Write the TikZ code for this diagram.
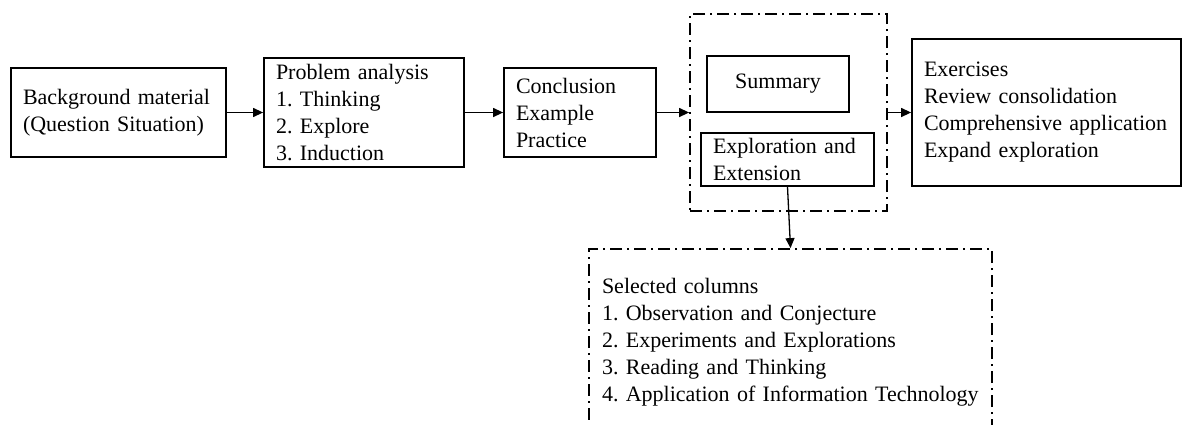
\documentclass[tikz,border=0pt]{standalone}
\usepackage{fontspec}
\setmainfont{Liberation Serif}
\usetikzlibrary{arrows.meta}
\frenchspacing
\hyphenpenalty=10000
\begin{document}
\begin{tikzpicture}[x=1pt,y=-1pt,
    font=\fontsize{22}{27}\selectfont,
    box/.style={draw, line width=1.8pt, align=left, inner xsep=12pt, inner ysep=0pt},
    dashbox/.style={draw, line width=1.8pt, dash pattern=on 12pt off 5pt on 2pt off 5pt},
    arr/.style={line width=1.3pt, -{Triangle[length=10pt,width=9pt]}}]
      \useasboundingbox (0,0) rectangle (1182,424);
      \clip (0,0) rectangle (1182,424);
      \node[box, text width=191pt, minimum height=89pt] (bg) at (118.5,112.5) {Background material\\(Question Situation)};
      \node[box, text width=176pt, minimum height=109pt] (prob) at (364,112.5) {Problem analysis\\1. Thinking\\2. Explore\\3. Induction};
      \node[box, text width=128pt, minimum height=89pt] (concl) at (580,112.5) {Conclusion\\Example\\Practice};
      \node[dashbox, minimum width=197pt, minimum height=197pt] (grp) at (788.5,112.5) {};
      \node[box, align=center, minimum width=142pt, minimum height=56pt] (summ) at (778,84) {Summary};
      \node[box, text width=149pt, minimum height=53pt] (expl) at (787.5,159.5) {Exploration and\\Extension};
      \node[box, text width=245pt, minimum height=147pt] (exer) at (1046.5,112.5) {Exercises\\Review consolidation\\Comprehensive application\\Expand exploration};
      \node[dashbox, align=left, inner xsep=13pt, text width=377pt, minimum height=187pt] (cols) at (790.5,342.5) {Selected columns\\1. Observation and Conjecture\\2. Experiments and Explorations\\3. Reading and Thinking\\4. Application of Information Technology};
      \draw[arr] (bg) -- (prob);
      \draw[arr] (prob) -- (concl);
      \draw[arr] (concl) -- (grp);
      \draw[arr] (grp) -- (exer);
      \draw[arr] (expl.south) -- (cols.north);
    \end{tikzpicture}
\end{document}
